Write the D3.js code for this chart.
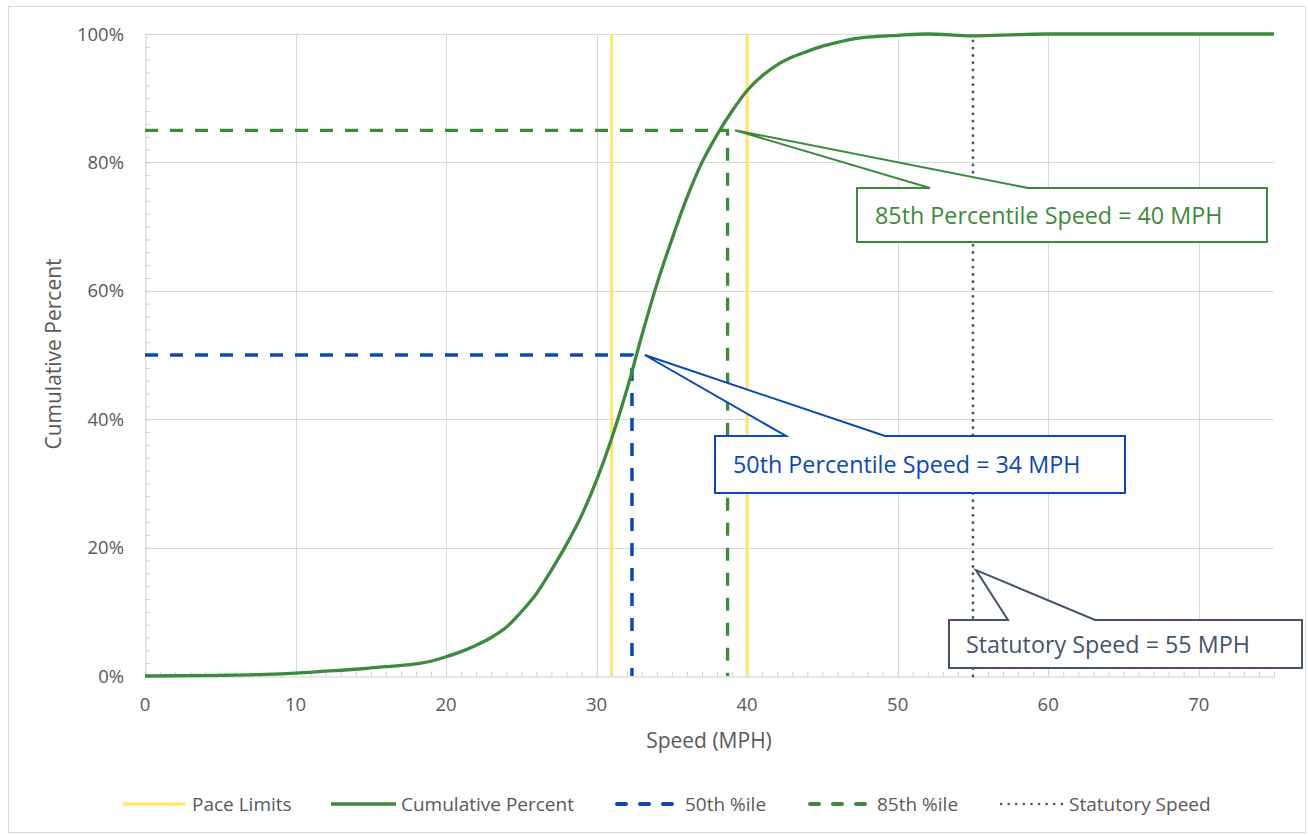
<!DOCTYPE html>
<html><head><meta charset="utf-8">
<script src="https://cdn.jsdelivr.net/npm/d3@7"></script>
<style>
body{margin:0;background:#fff;}
svg text{font-family:"Open Sans",sans-serif;}
</style></head><body>
<svg id="c" width="1308" height="835"></svg>
<script>
// ---- data ----
const speeds = [0,5,8,10,12,14,15,16,17,18,19,20,21,22,23,24,25,26,27,28,29,30,31,32,33,34,35,36,37,38,39,40,41,42,43,44,45,46,47,48,50,52,55,58,60,65,70,75];
const cumPct = [0,0.1,0.25,0.45,0.75,1.05,1.25,1.45,1.65,1.9,2.3,3.0,3.8,4.8,6.0,7.6,10.0,12.8,16.5,20.5,25,30.5,37,44.5,53,61,68,74.5,80,84.3,88,91.2,93.5,95.2,96.4,97.3,98.1,98.7,99.2,99.5,99.8,100,99.7,99.9,100,100,100,100];
const paceLimits = [31, 40];
const p50 = {speed: 32.35, pct: 50};
const p85 = {speed: 38.7, pct: 85};
const statutory = 55;
const xTicks = [0,10,20,30,40,50,60,70];
const yTicks = [0,20,40,60,80,100];
const calloutTexts = ["85th Percentile Speed = 40 MPH","50th Percentile Speed = 34 MPH","Statutory Speed = 55 MPH"];
const legendLabels = ["Pace Limits","Cumulative Percent","50th %ile","85th %ile","Statutory Speed"];

// ---- styles ----
const C = {grid:"#d9d9d9", axis:"#d0d0d0", text:"#595959", yellow:"#ffe56d", green:"#3d8a3d", blue:"#0a47bb", slate:"#44546a"};

const svg = d3.select("#c");
svg.append("rect").attr("x",8.5).attr("y",6.5).attr("width",1297).attr("height",826)
  .attr("fill","#fff").attr("stroke","#d9d9d9");

const x = d3.scaleLinear().domain([0,75]).range([145,1274]);
const y = d3.scaleLinear().domain([0,100]).range([676,34]);

// gridlines
const g = svg.append("g");
g.selectAll(".vg").data(xTicks.filter(d=>d>0)).join("line")
  .attr("x1",d=>Math.round(x(d))+0.5).attr("x2",d=>Math.round(x(d))+0.5)
  .attr("y1",y(0)).attr("y2",y(100)).attr("stroke",C.grid);
g.selectAll(".hg").data(yTicks.filter(d=>d>0)).join("line")
  .attr("y1",d=>Math.round(y(d))+0.5).attr("y2",d=>Math.round(y(d))+0.5)
  .attr("x1",x(0)).attr("x2",x(75)).attr("stroke",C.grid);

// axes
const xAxis = d3.axisBottom(x).tickValues(d3.range(0,76,1)).tickSize(-5).tickFormat("");
const xa = svg.append("g").attr("transform",`translate(0,${Math.round(y(0))+0.5})`).call(xAxis);
xa.select(".domain").attr("stroke",C.axis);
xa.selectAll(".tick line").attr("stroke",C.axis);
const yAxis = d3.axisLeft(y).tickValues(d3.range(0,101,2)).tickSize(-5).tickFormat("");
const ya = svg.append("g").attr("transform",`translate(${Math.round(x(0))+0.5},0)`).call(yAxis);
ya.select(".domain").attr("stroke",C.axis);
ya.selectAll(".tick line").attr("stroke",C.axis);

svg.selectAll(".xl").data(xTicks).join("text")
  .attr("x",d=>x(d)).attr("y",711).attr("text-anchor","middle")
  .attr("font-size",18.5).attr("fill",C.text).text(d=>d);
svg.selectAll(".yl").data(yTicks).join("text")
  .attr("x",124).attr("y",d=>y(d)+6.5).attr("text-anchor","end")
  .attr("font-size",18.5).attr("fill",C.text).text(d=>d+"%");

svg.append("text").attr("x",709).attr("y",748).attr("text-anchor","middle")
  .attr("font-size",21).attr("fill",C.text).text("Speed (MPH)");
svg.append("text").attr("transform","translate(61,354) rotate(-90)").attr("text-anchor","middle")
  .attr("font-size",21).attr("fill",C.text).text("Cumulative Percent");

// pace limits
svg.selectAll(".pace").data(paceLimits).join("line")
  .attr("x1",d=>x(d)).attr("x2",d=>x(d)).attr("y1",y(0)).attr("y2",y(100))
  .attr("stroke",C.yellow).attr("stroke-width",3);

// percentile lines
const pl = d3.line().x(d=>x(d[0])).y(d=>y(d[1]));
svg.append("path").attr("d",pl([[0,p50.pct],[p50.speed,p50.pct],[p50.speed,0]]))
  .attr("fill","none").attr("stroke",C.blue).attr("stroke-width",3.5).attr("stroke-dasharray","13,12");
svg.append("path").attr("d",pl([[0,p85.pct],[p85.speed,p85.pct],[p85.speed,0]]))
  .attr("fill","none").attr("stroke",C.green).attr("stroke-width",3.3).attr("stroke-dasharray","13,12");

// statutory
svg.append("line").attr("x1",x(statutory)).attr("x2",x(statutory)).attr("y1",y(0)).attr("y2",y(100))
  .attr("stroke",C.slate).attr("stroke-width",2.8).attr("stroke-linecap","round").attr("stroke-dasharray","0.1,7.2");

// cumulative curve
const line = d3.line().x((d,i)=>x(speeds[i])).y(d=>y(d)).curve(d3.curveMonotoneX);
svg.append("path").attr("d",line(cumPct)).attr("fill","none").attr("stroke",C.green).attr("stroke-width",3.3);

// callouts
function callout(box, tip, b1, b2, color, txt, tx){
  const [l,t,r,b] = box;
  const p = `M${l},${t}L${b1},${t}L${tip[0]},${tip[1]}L${b2},${t}L${r},${t}L${r},${b}L${l},${b}Z`;
  svg.append("path").attr("d",p).attr("fill","#fff").attr("stroke",color).attr("stroke-width",2);
  svg.append("text").attr("x",tx).attr("y",(t+b)/2+8.5).attr("font-size",23.3).attr("fill",color).text(txt);
}
callout([857,188,1267,242],[x(39.2),y(85)],930,1028,C.green,calloutTexts[0],875);
callout([715,436,1125,493],[x(33.2),y(50)],786,885,C.blue,calloutTexts[1],733);
callout([949,620,1302,668],[x(55.2),y(16.5)],1008,1095,C.slate,calloutTexts[2],966);

// legend
const lg = svg.append("g");
const items = [
  {x1:123, x2:185, tx:192, color:C.yellow, dash:null, w:3.5, cap:"butt"},
  {x1:331, x2:396, tx:401, color:C.green, dash:null, w:3.5, cap:"butt"},
  {x1:617, x2:678, tx:685, color:C.blue, dash:"9,14", w:4, cap:"round"},
  {x1:810, x2:869, tx:877, color:C.green, dash:"9,14", w:4, cap:"round"},
  {x1:1001, x2:1062, tx:1069, color:C.slate, dash:"0.1,7.5", w:2.5, cap:"round"}
];
items.forEach((it,i)=>{
  lg.append("line").attr("x1",it.x1).attr("x2",it.x2).attr("y1",804).attr("y2",804)
    .attr("stroke",it.color).attr("stroke-width",it.w).attr("stroke-linecap",it.cap)
    .attr("stroke-dasharray",it.dash);
  lg.append("text").attr("x",it.tx).attr("y",810.5).attr("font-size",19).attr("fill",C.text).text(legendLabels[i]);
});
</script></body></html>
